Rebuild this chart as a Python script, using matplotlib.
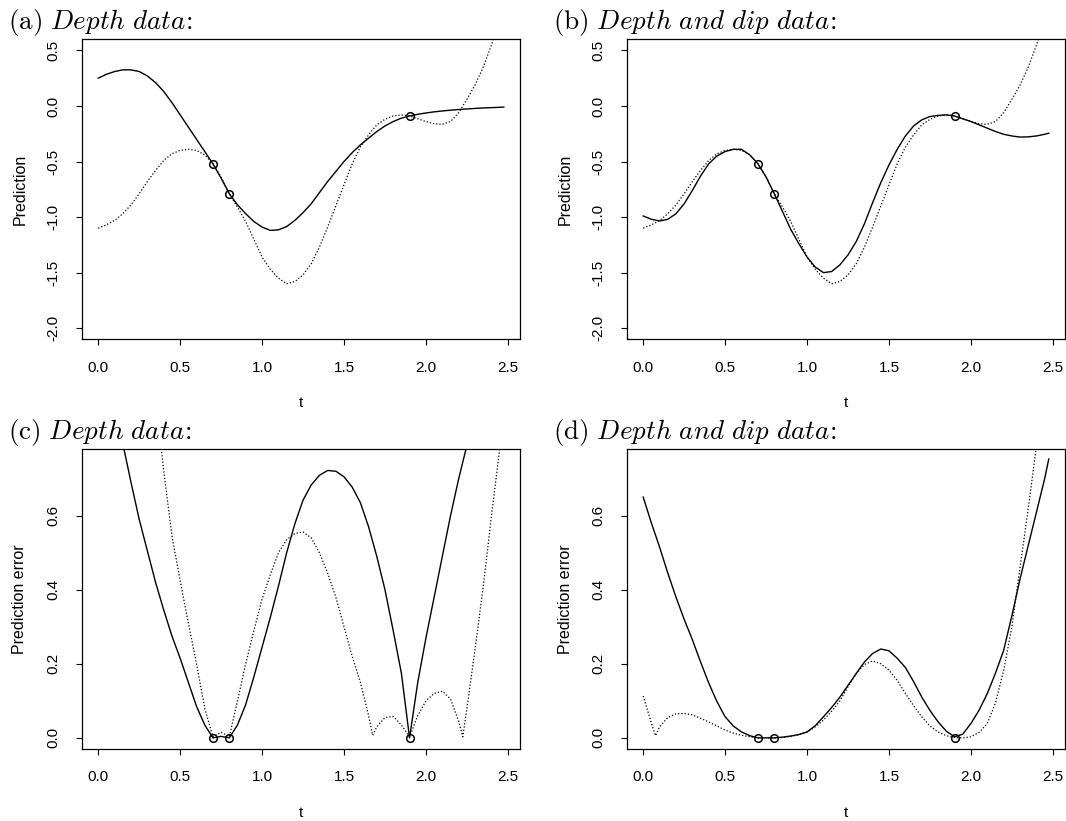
import matplotlib
matplotlib.use("Agg")
import matplotlib.pyplot as plt

plt.rcParams["font.family"] = ["Liberation Sans", "DejaVu Sans"]
plt.rcParams["mathtext.fontset"] = "cm"
plt.rcParams["axes.unicode_minus"] = False

# common t grid
t = [0.00, 0.05, 0.10, 0.15, 0.20, 0.25, 0.30, 0.35, 0.40, 0.45,
     0.50, 0.55, 0.60, 0.65, 0.70, 0.75, 0.80, 0.85, 0.90, 0.95,
     1.00, 1.05, 1.10, 1.15, 1.20, 1.25, 1.30, 1.35, 1.40, 1.45,
     1.50, 1.55, 1.60, 1.65, 1.70, 1.75, 1.80, 1.85, 1.90, 1.95,
     2.00, 2.05, 2.10, 2.15, 2.20, 2.25, 2.30, 2.35, 2.40, 2.45, 2.475]

# dotted curve in (a) and (b)
truth = [-1.10, -1.07, -1.03, -0.97, -0.89, -0.79, -0.68, -0.58, -0.49, -0.43,
         -0.40, -0.39, -0.40, -0.44, -0.52, -0.64, -0.79, -0.91, -1.04, -1.20,
         -1.36, -1.47, -1.55, -1.60, -1.58, -1.52, -1.42, -1.27, -1.09, -0.90,
         -0.71, -0.52, -0.37, -0.26, -0.17, -0.12, -0.09, -0.08, -0.09, -0.115,
         -0.14, -0.16, -0.165, -0.14, -0.06, 0.06, 0.19, 0.35, 0.55, 0.78, 0.90]

# solid curve (a): depth data
pred_depth = [0.25, 0.285, 0.31, 0.325, 0.325, 0.31, 0.27, 0.21, 0.13, 0.03,
              -0.08, -0.19, -0.30, -0.41, -0.52, -0.65, -0.79, -0.89, -0.97, -1.04,
              -1.09, -1.12, -1.115, -1.085, -1.03, -0.96, -0.88, -0.78, -0.68, -0.59,
              -0.50, -0.42, -0.35, -0.29, -0.23, -0.18, -0.14, -0.11, -0.09, -0.075,
              -0.063, -0.053, -0.045, -0.038, -0.032, -0.027, -0.022, -0.018, -0.015, -0.012, -0.01]

# solid curve (b): depth and dip data
pred_dip = [-0.99, -1.02, -1.035, -1.02, -0.97, -0.88, -0.76, -0.63, -0.52, -0.45,
            -0.41, -0.39, -0.39, -0.44, -0.52, -0.64, -0.79, -0.95, -1.11, -1.24,
            -1.36, -1.45, -1.50, -1.49, -1.43, -1.34, -1.22, -1.06, -0.87, -0.69,
            -0.53, -0.39, -0.27, -0.18, -0.125, -0.095, -0.085, -0.08, -0.09, -0.115,
            -0.14, -0.17, -0.20, -0.23, -0.255, -0.27, -0.28, -0.278, -0.27, -0.255, -0.245]

# (c) solid, from t = 0.10
t_c_sd = t[2:47]
sd_depth = [0.92, 0.795, 0.69, 0.59, 0.505, 0.42, 0.345, 0.275,
            0.215, 0.15, 0.085, 0.035, 0.0, 0.004, 0.0, 0.035, 0.09, 0.165,
            0.245, 0.325, 0.41, 0.50, 0.578, 0.642, 0.683, 0.709, 0.722, 0.72,
            0.705, 0.677, 0.635, 0.57, 0.49, 0.40, 0.29, 0.175, 0.0, 0.15,
            0.27, 0.38, 0.49, 0.60, 0.70, 0.79, 0.88]

# (c) dotted
t_c_err = [0.30, 0.35, 0.40, 0.45, 0.50, 0.55, 0.60, 0.65, 0.70, 0.75,
           0.80, 0.85, 0.90, 0.95, 1.00, 1.05, 1.10, 1.15, 1.20, 1.25,
           1.30, 1.35, 1.40, 1.45, 1.50, 1.55, 1.60, 1.65, 1.675, 1.70,
           1.75, 1.80, 1.85, 1.90, 1.95, 2.00, 2.05, 2.10, 2.15, 2.20,
           2.225, 2.25, 2.30, 2.35, 2.40, 2.45, 2.475]
err_depth = [1.05, 0.92, 0.72, 0.545, 0.425, 0.31, 0.20, 0.08, 0.003, 0.015,
             0.003, 0.10, 0.20, 0.29, 0.375, 0.44, 0.50, 0.535, 0.552, 0.556,
             0.54, 0.50, 0.445, 0.38, 0.30, 0.22, 0.15, 0.06, 0.007, 0.03,
             0.055, 0.058, 0.035, 0.003, 0.06, 0.10, 0.12, 0.126, 0.105, 0.045,
             0.003, 0.08, 0.24, 0.41, 0.60, 0.78, 0.88]

# (d) solid
sd_dip = [0.65, 0.58, 0.515, 0.445, 0.38, 0.32, 0.265, 0.205, 0.148, 0.098,
          0.057, 0.032, 0.016, 0.006, 0.0, 0.0, 0.0, 0.002, 0.005, 0.009,
          0.016, 0.033, 0.057, 0.082, 0.11, 0.142, 0.174, 0.205, 0.228, 0.24,
          0.235, 0.215, 0.19, 0.152, 0.11, 0.074, 0.043, 0.018, 0.003, 0.01,
          0.039, 0.075, 0.12, 0.175, 0.237, 0.33, 0.43, 0.52, 0.61, 0.70, 0.753]

# (d) dotted
t_d_err = [0.00, 0.05, 0.075, 0.10, 0.15, 0.20, 0.25, 0.30, 0.35, 0.40,
           0.45, 0.50, 0.55, 0.60, 0.65, 0.70, 0.75, 0.80, 0.85, 0.90,
           0.95, 1.00, 1.05, 1.10, 1.15, 1.20, 1.25, 1.30, 1.35, 1.40,
           1.45, 1.50, 1.55, 1.60, 1.65, 1.70, 1.75, 1.80, 1.85, 1.90,
           1.95, 2.00, 2.05, 2.10, 2.15, 2.20, 2.25, 2.30, 2.35, 2.40, 2.45, 2.475]
err_dip = [0.113, 0.04, 0.006, 0.03, 0.055, 0.065, 0.066, 0.062, 0.053, 0.043,
           0.032, 0.021, 0.013, 0.007, 0.003, 0.0, 0.001, 0.0, 0.001, 0.004,
           0.009, 0.016, 0.03, 0.048, 0.072, 0.10, 0.138, 0.174, 0.198, 0.208,
           0.200, 0.183, 0.155, 0.12, 0.087, 0.057, 0.032, 0.016, 0.006, 0.001,
           0.0, 0.003, 0.015, 0.039, 0.095, 0.183, 0.30, 0.462, 0.62, 0.79, 0.98, 1.08]

# observations
obs_t = [0.7, 0.8, 1.9]
obs_y = [-0.52, -0.79, -0.09]
obs_err = [0.0, 0.0, 0.0]

titles = ["(a)", "(b)", "(c)", "(d)"]
subtitles = ["Depth\\ data", "Depth\\ and\\ dip\\ data",
             "Depth\\ data", "Depth\\ and\\ dip\\ data"]

W, H = 1066, 821
fig = plt.figure(figsize=(W / 100, H / 100), dpi=100)

lefts = [82, 627, 82, 627]
bottoms = [339.3, 339.3, 749, 749]
panels = [
    (t, pred_depth, t, truth, obs_y, "Prediction"),
    (t, pred_dip, t, truth, obs_y, "Prediction"),
    (t_c_sd, sd_depth, t_c_err, err_depth, obs_err, "Prediction error"),
    (t, sd_dip, t_d_err, err_dip, obs_err, "Prediction error"),
]

dotted = (0, (1.0, 1.6))

for i, (xs, ys, xd, yd, oy, ylab) in enumerate(panels):
    ax = fig.add_axes([lefts[i] / W, 1 - bottoms[i] / H, 438 / W, 300 / H])
    ax.plot(xs, ys, color="black", linewidth=1.0)
    ax.plot(xd, yd, color="black", linewidth=0.9, linestyle=dotted)
    ax.plot(obs_t, oy, linestyle="none", marker="o", markersize=5.5,
            markerfacecolor="none", markeredgecolor="black", markeredgewidth=1.1)

    ax.set_xlim(-0.099, 2.574)
    ax.set_xticks([0.0, 0.5, 1.0, 1.5, 2.0, 2.5])
    ax.set_xticklabels(["0.0", "0.5", "1.0", "1.5", "2.0", "2.5"])
    if i < 2:
        ax.set_ylim(-2.1, 0.6)
        yt = [-2.0, -1.5, -1.0, -0.5, 0.0, 0.5]
    else:
        ax.set_ylim(-0.03, 0.78)
        yt = [0.0, 0.2, 0.4, 0.6]
    ax.set_yticks(yt)
    ax.set_yticklabels(["%.1f" % v for v in yt], rotation=90, va="center")

    ax.tick_params(direction="out", length=4.3, width=0.8, labelsize=11, pad=11)
    for s in ax.spines.values():
        s.set_linewidth(0.9)

    ax.set_xlabel("t", fontsize=11)
    ax.xaxis.set_label_coords(0.5, -0.212)
    ax.xaxis.label.set_va("center")
    ax.set_ylabel(ylab, fontsize=11.5)
    ax.yaxis.set_label_coords(-62 / 438, 0.5)
    ax.yaxis.label.set_va("center")

    tx = 8 if i % 2 == 0 else 553
    ty = 29 if i < 2 else 439
    fig.text(tx / W, 1 - ty / H,
             r"$\mathrm{%s}\ \mathit{%s}\!\mathrm{:}$" % (titles[i], subtitles[i]),
             fontsize=19.5, ha="left", va="baseline")

fig.savefig("out.png", dpi=100)
